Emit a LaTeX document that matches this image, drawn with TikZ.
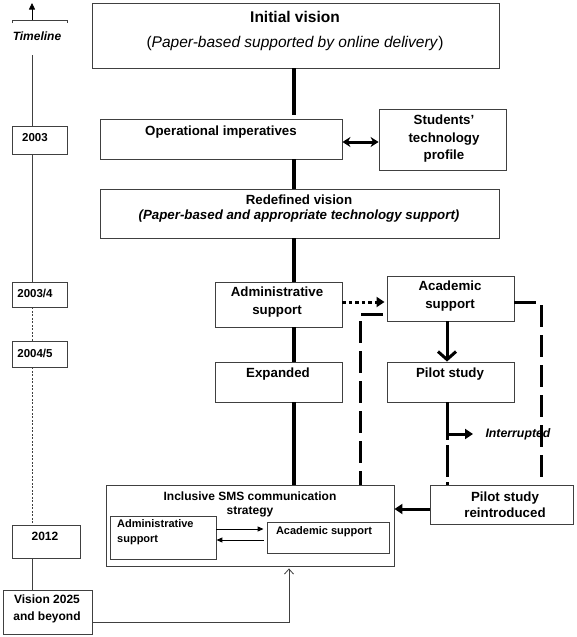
\documentclass[tikz,border=0pt]{standalone}
\usepackage{fontspec}
\setmainfont{Liberation Sans}
\usetikzlibrary{arrows.meta,calc}
\begin{document}
\begin{tikzpicture}[x=1pt,y=-1pt,
  box/.style={draw=black!75, line width=0.9pt, inner sep=0pt, rectangle},
  bx/.style 2 args={box, minimum width=#1, minimum height=#2},
  tm/.style={font=\fontsize{13.3}{16}\selectfont\bfseries, align=center, inner sep=0pt},
  tbig/.style={font=\fontsize{15.5}{18}\selectfont, align=center, inner sep=0pt},
  tyr/.style={font=\fontsize{11.5}{14}\selectfont\bfseries, align=center, inner sep=0pt},
  tsm/.style={font=\fontsize{11}{15}\selectfont\bfseries, align=left, inner sep=0pt},
  spine/.style={line width=3.2pt},
  longdash/.style={line width=3pt, dash pattern=on 22pt off 8pt},
  thinline/.style={line width=0.8pt, draw=black!75},
  bigarrow/.style={line width=3pt, -{Triangle[length=8pt,width=10pt]}},
]
\useasboundingbox (0,0) rectangle (576,637);

% ---- main boxes
\node[bx={407}{65}] (init) at (295.5,35.5) {};
\node[tbig, font=\fontsize{15.5}{18}\selectfont\bfseries] (initT) at (295,17) {Initial vision};
\node[tbig] (initS) at (295,43) {(\textit{Paper-based supported by online delivery})};

\node[bx={242}{40}] (op) at (221,139) {};
\node[tm] (opT) at (221,132) {Operational imperatives};

\node[bx={127}{61}] (stp) at (442.5,139.5) {};
\node[tm, font=\fontsize{13.3}{17.5}\selectfont\bfseries] (stpT) at (444,139) {Students'\\technology\\profile};

\node[bx={399}{49}] (redef) at (299.5,213.5) {};
\node[tm, font=\fontsize{13.3}{15}\selectfont\bfseries] (redefT) at (299,208.5) {Redefined vision\\\textit{(Paper-based and appropriate technology support)}};

\node[bx={127}{45}] (adm) at (278.5,304.5) {};
\node[tm, font=\fontsize{13.3}{18}\selectfont\bfseries] (admT) at (277,302) {Administrative\\support};

\node[bx={127}{45}] (acad) at (450.5,298.5) {};
\node[tm, font=\fontsize{13.3}{18}\selectfont\bfseries] (acadT) at (450,296) {Academic\\support};

\node[bx={127}{40}] (exp) at (278.5,382) {};
\node[tm] (expT) at (278,374) {Expanded};

\node[bx={127}{40}] (pilot) at (450.5,382) {};
\node[tm] (pilotT) at (450,374) {Pilot study};

\node[bx={288}{81}] (sms) at (250,525.5) {};
\node[tm, font=\fontsize{12}{14}\selectfont\bfseries] (smsT) at (250,504) {Inclusive SMS communication\\strategy};

\node[bx={106}{43}] (iadm) at (163,537.5) {};
\node[tsm, anchor=west] (iadmT) at (117,532.5) {Administrative\\support};

\node[bx={122}{31}] (iacad) at (328,537.5) {};
\node[tsm] (iacadT) at (324,532) {Academic support};

\node[bx={143}{39}] (rein) at (501.5,504.5) {};
\node[tm, font=\fontsize{13.3}{16}\selectfont\bfseries] (reinT) at (505,505) {Pilot study\\reintroduced};

\node[font=\fontsize{12.3}{14}\selectfont\bfseries\itshape, inner sep=0pt] (intT) at (518,434) {Interrupted};

% ---- timeline
\node[font=\fontsize{12}{14}\selectfont\bfseries\itshape, inner sep=0pt] (tlT) at (37,36) {Timeline};
\coordinate (tlTop) at (32,3);
\coordinate (tlBr) at (32,20);
\coordinate (tlLine) at (32,55);
\node[bx={55}{28}] (y03) at (39.5,140) {};
\node[tyr] (y03T) at (35,137.5) {2003};
\node[bx={55}{25}] (y034) at (39.5,294.5) {};
\node[tyr] (y034T) at (35,293) {2003/4};
\node[bx={55}{26}] (y045) at (39.5,354) {};
\node[tyr] (y045T) at (35,353) {2004/5};
\node[bx={68}{33}] (y12) at (46,541.5) {};
\node[tyr, font=\fontsize{12}{14}\selectfont\bfseries] (y12T) at (45,536.5) {2012};
\node[bx={89}{44}] (v25) at (47.5,612) {};
\node[tyr, font=\fontsize{12}{16.5}\selectfont\bfseries] (v25T) at (47,609) {Vision 2025\\and beyond};

\draw[thinline, draw=black, -{Triangle[length=6.5pt,width=6pt]}] (tlBr) -- (tlTop);
\draw[thinline] (12,23) -- (12,20) -- (67,20) -- (67,23);
\draw[thinline] (tlLine) -- (y03.north -| tlLine);
\draw[thinline] (y03.south -| tlLine) -- (y034.north -| tlLine);
\draw[thinline, dash pattern=on 2pt off 1.5pt] (y034.south -| tlLine) -- (y045.north -| tlLine);
\draw[thinline, dash pattern=on 2pt off 1.5pt] (y045.south -| tlLine) -- (y12.north -| tlLine);
\draw[thinline] (y12.south -| tlLine) -- (v25.north -| tlLine);

% ---- main spine
\coordinate (sp) at (294,0);
\draw[spine] (init.south -| sp) -- ($(op.north -| sp)+(0,-4)$);
\draw[spine] (op.south -| sp) -- (redef.north -| sp);
\draw[spine] (redef.south -| sp) -- (adm.north -| sp);
\draw[spine] (adm.south -| sp) -- (exp.north -| sp);
\draw[spine] (exp.south -| sp) -- (sms.north -| sp);

% op <-> students
\coordinate (dy) at (0,142);
\draw[line width=3pt, {Stealth[length=8pt,width=10pt]}-{Stealth[length=8pt,width=10pt]}] (op.east |- dy) -- (stp.west |- dy);

% admin ... academic
\coordinate (dd) at (0,302);
\draw[line width=3pt, dash pattern=on 3.5pt off 3pt, -{Triangle[length=8pt,width=10pt]}] (adm.east |- dd) -- ($(acad.west |- dd)+(-2,0)$);

% academic -> pilot
\coordinate (ax) at (447,0);
\draw[line width=3pt, -{Straight Barb[length=8pt,width=18pt,line width=3pt]}] (acad.south -| ax) -- (pilot.north -| ax);

% pilot down (interrupted)
\draw[line width=3pt, dash pattern=on 38pt off 5pt on 32pt off 5pt on 3pt] (pilot.south -| ax) -- (rein.north -| ax);
\coordinate (ia) at (447,434);
\draw[line width=3pt, -{Triangle[length=8pt,width=10pt]}] (ia) -- (intT.west -| 473,0);

% left dashed
\coordinate (ld) at (360,314);
\draw[longdash] ($(acad.west |- ld)+(-4,0)$) -- (ld) -- (sms.north -| ld);
% right dashed
\coordinate (rd) at (541,302);
\draw[longdash] (acad.east |- rd) -- (rd) -- (rein.north -| rd);

% reintroduced -> SMS
\coordinate (rr) at (0,509);
\draw[bigarrow] (rein.west |- rr) -- (sms.east |- rr);

% inner arrows
\coordinate (ir1) at (0,529);
\coordinate (ir2) at (0,540);
\draw[line width=1pt, -{Triangle[length=6pt,width=5pt]}] (iadm.east |- ir1) -- ($(iacad.west |- ir1)+(-3,0)$);
\draw[line width=1pt, -{Triangle[length=6pt,width=5pt]}] ($(iacad.west |- ir2)+(-3,0)$) -- (iadm.east |- ir2);

% vision 2025 -> SMS
\coordinate (vv) at (289,622);
\draw[thinline, -{Straight Barb[length=5pt,width=9pt]}] (v25.east |- vv) -- (vv) -- ($(sms.south -| vv)+(0,2)$);
\end{tikzpicture}
\end{document}
